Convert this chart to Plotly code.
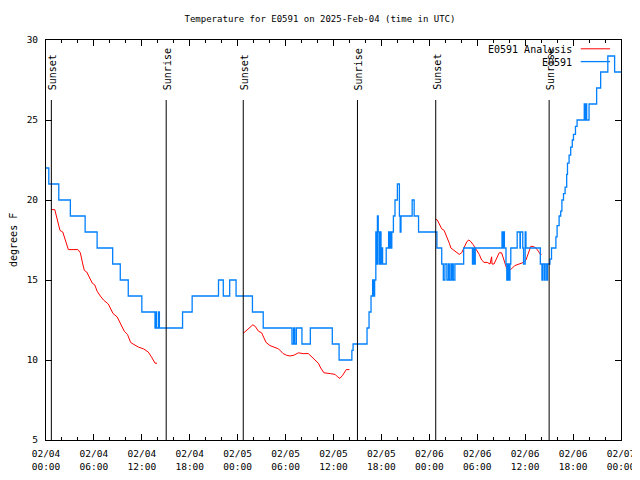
import plotly.graph_objects as go

# ---------------- data (hours since 2025-02-04 00:00 UTC) ----------------
obs_hours = [0.0, 0.35, 1.6, 3.05, 4.9, 6.4, 8.35, 9.3, 10.3, 12.0, 13.65, 13.75, 13.85, 14.1, 14.2,
             17.1, 18.3, 21.6, 22.2, 23.0, 23.8, 25.85, 27.2, 30.8, 31.0, 31.15, 31.35, 32.05, 33.1,
             35.85, 36.7, 38.3, 38.45, 40.2, 40.45, 40.7, 40.9, 41.05, 41.15, 41.3, 41.4, 41.5, 41.6,
             41.7, 41.85, 41.95, 42.05, 42.15, 42.6, 42.9, 43.0, 43.1, 43.2, 43.3, 43.5, 43.7, 44.0,
             44.25, 44.35, 44.45, 45.85, 46.1, 46.65, 48.95, 49.55, 49.75, 49.95, 50.2, 50.4, 50.5,
             50.7, 50.8, 50.9, 51.0, 51.2, 52.3, 53.4, 53.55, 53.6, 53.75, 57.1, 57.2, 57.3, 57.4,
             57.6, 57.7, 57.85, 58.0, 58.1, 58.2, 59.0, 59.35, 59.4, 59.7, 59.8, 60.0, 60.1, 61.9,
             62.1, 62.2, 62.4, 62.5, 62.7, 62.8, 63.1, 63.3, 63.85, 64.0, 64.25, 64.45, 64.6, 64.8,
             65.0, 65.2, 65.3, 65.5, 65.7, 65.9, 66.05, 66.3, 66.5, 67.4, 67.5, 67.6, 67.7, 68.0,
             68.95, 69.45, 70.35, 71.2, 72.0]
obs_temps = [22, 21, 20, 19, 18, 17, 16, 15, 14, 13, 12, 13, 12, 13, 12,
             13, 14, 15, 14, 15, 14, 13, 12, 11, 12, 11, 12, 11, 12,
             11, 10, 10.6, 11, 12, 13, 14, 15, 14, 15, 18, 16, 19, 18,
             16, 18, 16, 17, 16, 17, 18, 17, 18, 17, 18, 19, 20, 21,
             19, 18, 19, 20, 19, 18, 17, 16, 15, 16, 15, 16, 15,
             16, 15, 16, 15, 16, 17, 16, 17, 16, 17, 18, 17, 18, 17,
             16, 15, 16, 15, 16, 17, 18, 17, 18, 17, 16, 18, 17, 16,
             15, 16, 15, 16, 15, 16, 16.3, 17, 17.7, 18.4, 19, 19.3, 20, 20.4,
             20.8, 21.6, 22.3, 22.8, 23.3, 23.75, 24.1, 24.6, 25, 26, 25, 26, 25, 26,
             27, 28, 29, 28, 28]

ana_hours = [0.7, 1.1, 1.3, 1.5, 1.75, 2.1, 2.4, 2.8, 4.0, 4.3, 4.6, 4.8, 5.1, 5.5, 5.8, 6.1, 6.4,
             6.8, 7.2, 7.8, 8.0, 8.4, 8.9, 9.35, 9.8, 10.2, 10.6, 10.9, 11.6, 12.2, 12.8, 13.2,
             13.65, 13.9, None,
             24.7, 25.0, 25.5, 25.9, 26.2, 26.6, 27.0, 27.55, 28.05, 28.7, 29.1, 29.7, 30.1, 30.55,
             31.05, 31.6, 32.2, 32.85, 33.4, 33.8, 34.1, 34.4, 34.8, 35.6, 36.2, 36.5, 36.8, 37.15,
             37.6, 38.0, None,
             48.8, 49.0, 49.25, 49.55, 49.85, 50.2, 50.5, 50.7, 51.0, 51.3, 51.75, 52.05, 52.4,
             52.7, 52.95, 53.2, 53.5, 53.9, 54.25, 54.55, 54.85, 55.25, 55.6, 55.8, 55.85, 56.1,
             56.4, 56.75, 57.05, 57.35, 57.7, 58.0, 58.3, 58.7, 59.15, 59.8, 60.1, 60.4, 60.7,
             61.0, 61.35, 61.65, 61.9, 62.05]
ana_temps = [19.4, 19.4, 19.0, 18.5, 18.1, 18.0, 17.5, 16.9, 16.9, 16.7, 16.0, 15.6, 15.5, 15.1,
             14.8, 14.7, 14.3, 14.0, 13.75, 13.5, 13.3, 12.9, 12.7, 12.2, 11.8, 11.6, 11.1, 11.0,
             10.8, 10.7, 10.5, 10.2, 9.8, 9.8, None,
             11.67, 11.8, 12.0, 12.2, 12.1, 11.8, 11.7, 11.1, 10.9, 10.8, 10.7, 10.4, 10.3, 10.25,
             10.3, 10.45, 10.4, 10.4, 10.15, 9.95, 9.8, 9.5, 9.2, 9.15, 9.1, 8.95, 8.85, 9.05,
             9.4, 9.4, None,
             18.8, 18.75, 18.5, 18.2, 18.1, 17.7, 17.3, 17.0, 16.9, 16.8, 16.6, 16.7, 17.1,
             17.4, 17.5, 17.4, 17.2, 16.9, 16.6, 16.25, 16.1, 16.1, 16.0, 16.45, 16.0, 16.0,
             16.3, 16.7, 16.7, 16.25, 15.7, 15.6, 15.7, 15.9, 16.0, 16.1, 16.25, 16.7, 17.1,
             17.1, 17.0, 16.8, 16.6, 16.6]

sun_hours = [0.67, 15.05, 24.7, 39.0, 48.8, 63.0]
sun_labels = ["Sunset", "Sunrise", "Sunset", "Sunrise", "Sunset", "Sunrise"]

tick_hours = [0, 6, 12, 18, 24, 30, 36, 42, 48, 54, 60, 66, 72]
tick_labels = ["02/04<br>00:00", "02/04<br>06:00", "02/04<br>12:00", "02/04<br>18:00",
               "02/05<br>00:00", "02/05<br>06:00", "02/05<br>12:00", "02/05<br>18:00",
               "02/06<br>00:00", "02/06<br>06:00", "02/06<br>12:00", "02/06<br>18:00",
               "02/07<br>00:00"]

RED = "#ff0000"
BLUE = "#0080ff"
FONT = "DejaVu Sans Mono"

fig = go.Figure()
fig.add_trace(go.Scatter(x=ana_hours, y=ana_temps, mode="lines", name="E0591 Analysis",
                         line=dict(color=RED, width=1), connectgaps=False))
fig.add_trace(go.Scatter(x=obs_hours, y=obs_temps, mode="lines", name="E0591",
                         line=dict(color=BLUE, width=1.3, shape="hv")))

for h, lab in zip(sun_hours, sun_labels):
    fig.add_shape(type="line", xref="x", yref="y domain", x0=h, x1=h, y0=0, y1=0.85,
                  line=dict(color="black", width=1))
    fig.add_annotation(x=h, y=0.87, xref="x", yref="y domain", text=lab, textangle=-90,
                       showarrow=False, xanchor="center", yanchor="bottom", xshift=1,
                       font=dict(family=FONT, size=10, color="black"))

# manual gnuplot-style legend (text then sample)
leg = [("E0591 Analysis", RED, 0.976), ("E0591", BLUE, 0.944)]
for txt, col, yy in leg:
    fig.add_annotation(x=0.918, y=yy, xref="paper", yref="paper", text=txt, showarrow=False,
                       xanchor="right", yanchor="middle",
                       font=dict(family=FONT, size=10, color="black"))
    fig.add_shape(type="line", xref="paper", yref="paper", x0=0.930, x1=0.981, y0=yy + 0.002,
                  y1=yy + 0.002, line=dict(color=col, width=1 if col == RED else 1.3))

# y-axis title placed like gnuplot's ylabel
fig.add_annotation(x=-0.0574, y=0.5, xref="paper", yref="paper", text="degrees F", textangle=-90,
                   showarrow=False, xanchor="center", yanchor="middle",
                   font=dict(family=FONT, size=10, color="black"))

# the page body adds an 8px offset, so the figure is 632x472 with shifted margins
fig.update_layout(
    width=632, height=472, autosize=False,
    margin=dict(l=38, r=19, t=32, b=40, autoexpand=False),
    plot_bgcolor="white", paper_bgcolor="white",
    showlegend=False,
    font=dict(family=FONT, size=10, color="black"),
    title=dict(text="Temperature for E0591 on 2025-Feb-04 (time in UTC)", x=312 / 632, xref="container",
               xanchor="center", y=1 - 11 / 472, yref="container", yanchor="middle",
               font=dict(family=FONT, size=9, color="black")),
)
fig.update_xaxes(range=[0, 72], tickmode="array", tickvals=tick_hours, ticktext=tick_labels,
                 ticks="inside", ticklen=6, tickcolor="black", showline=True, linecolor="black",
                 linewidth=1, mirror="ticks", showgrid=False, zeroline=False, automargin=False,
                 ticklabelstandoff=5,
                 minor=dict(dtick=2, tick0=0, ticks="inside", ticklen=3, tickcolor="black", showgrid=False),
                 tickfont=dict(family=FONT, size=9.5))
fig.update_yaxes(range=[5, 30], dtick=5, ticks="inside", ticklen=6, tickcolor="black", showline=True,
                 linecolor="black", linewidth=1, mirror="ticks", showgrid=False, zeroline=False,
                 automargin=False, ticklabelstandoff=5, tickfont=dict(family=FONT, size=9.5))

fig.write_html("out.html")
